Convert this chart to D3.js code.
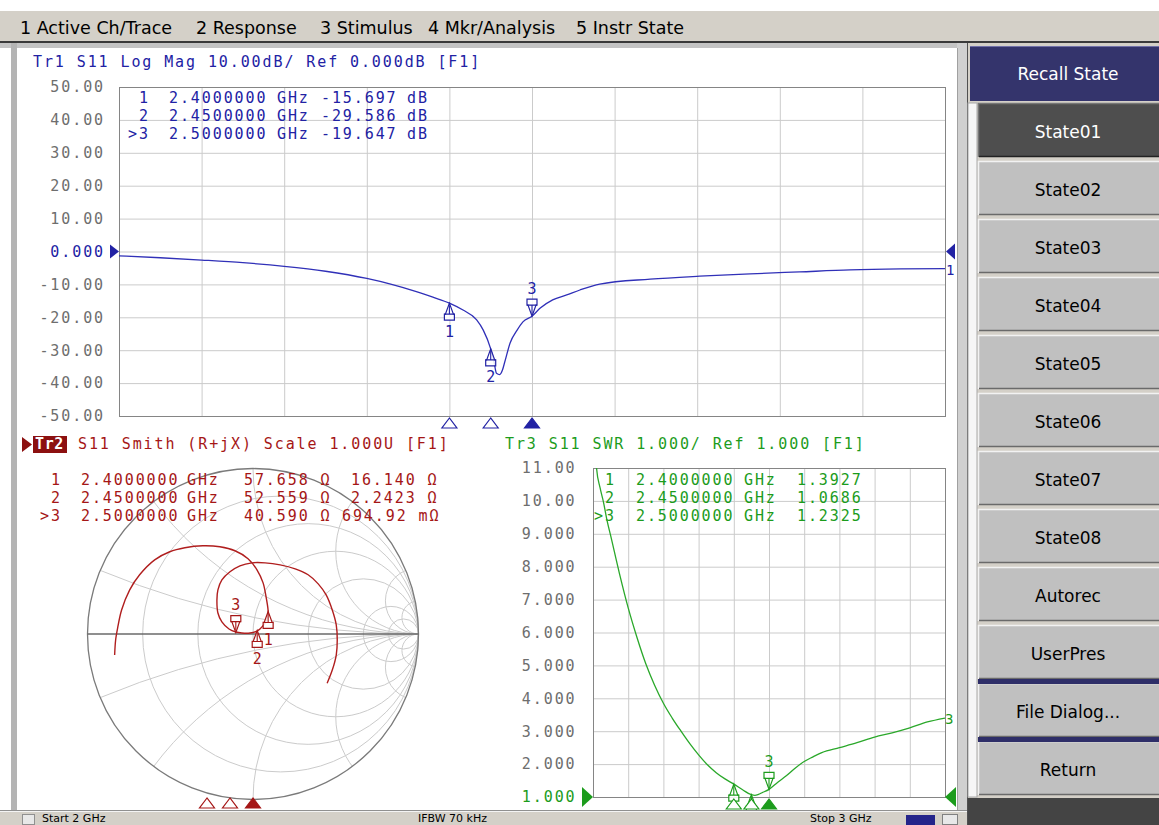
<!DOCTYPE html>
<html><head><meta charset="utf-8">
<script src="https://cdn.jsdelivr.net/npm/d3@7"></script>
<style>
body{margin:0;background:#fff;}
svg{display:block;}
</style></head><body>
<script>
// ---------------- DATA ----------------
const menuItems = ["1 Active Ch/Trace","2 Response","3 Stimulus","4 Mkr/Analysis","5 Instr State"];
const softkeyTitle = "Recall State";
const softkeys = ["State01","State02","State03","State04","State05","State06","State07","State08","Autorec","UserPres","File Dialog...","Return"];
const statusItems = ["Start 2 GHz","IFBW 70 kHz","Stop 3 GHz"];

const freqStart = 2.0, freqStop = 3.0;
const freqGrid = [2.0,2.1,2.2,2.3,2.4,2.5,2.6,2.7,2.8,2.9,3.0];

const logMagTicks = [50,40,30,20,10,0,-10,-20,-30,-40,-50];
const swrTicks = [11,10,9,8,7,6,5,4,3,2,1];

// Tr1 log magnitude trace (GHz, dB)
const logFreq = [2.000,2.050,2.100,2.150,2.200,2.250,2.300,2.330,2.360,2.380,2.400,2.4165,2.433,2.441,2.450,2.454,2.457,2.461,2.464,2.467,2.4735,2.482,2.489,2.500,2.510,2.525,2.542,2.558,2.582,2.643,2.703,2.764,2.824,2.885,2.946,3.000];
const logDb   = [-1.3,-1.9,-2.6,-3.4,-4.5,-6.0,-8.2,-10.0,-12.2,-13.9,-15.697,-17.8,-20.8,-23.9,-29.586,-33.5,-37.0,-37.4,-36.2,-33.6,-27.8,-23.9,-21.4,-19.647,-17.2,-14.7,-13.2,-11.7,-9.9,-8.4,-7.5,-6.8,-6.2,-5.6,-5.3,-5.2];

// Tr3 SWR trace
const swrFreq = [2.00,2.01,2.02,2.03,2.04,2.05,2.075,2.10,2.125,2.15,2.175,2.20,2.225,2.25,2.275,2.30,2.325,2.35,2.375,2.40,2.425,2.45,2.46,2.47,2.48,2.50,2.525,2.55,2.575,2.60,2.625,2.65,2.70,2.75,2.80,2.85,2.90,2.95,3.00];
const swrVals = [13.0,11.0,10.4,9.95,9.4,8.95,7.8,6.75,5.85,5.05,4.4,3.85,3.4,3.0,2.62,2.28,1.98,1.74,1.55,1.3927,1.22,1.0686,1.05,1.08,1.13,1.2325,1.45,1.65,1.88,2.08,2.22,2.35,2.50,2.65,2.82,2.95,3.10,3.28,3.40];

// Tr2 Smith trace (reflection coefficient, real / imaginary), in sweep order
const smithRe = [-0.836,-0.830,-0.818,-0.794,-0.745,-0.685,-0.594,-0.503,-0.412,-0.303,-0.200,-0.109,-0.030,0.024,0.061,0.079,0.091,0.091,0.073,0.042,0.024,-0.018,-0.067,-0.103,-0.145,-0.188,-0.212,-0.218,-0.212,-0.188,-0.139,-0.079,-0.006,0.073,0.164,0.255,0.333,0.394,0.442,0.479,0.503,0.509,0.503,0.479,0.448];
const smithIm = [-0.127,-0.036,0.036,0.145,0.267,0.358,0.448,0.497,0.521,0.533,0.527,0.503,0.455,0.388,0.309,0.224,0.145,0.115,0.067,0.030,0.018,0.006,0.006,0.012,0.030,0.073,0.127,0.206,0.267,0.327,0.376,0.412,0.430,0.430,0.418,0.394,0.358,0.303,0.236,0.145,0.055,-0.036,-0.127,-0.218,-0.297];
const smithRgrid = [0.2,0.5,1,2,5,10];
const smithXgrid = [0.2,0.5,1,2,5,10,-0.2,-0.5,-1,-2,-5,-10];
const z0 = 50;

// Markers
const markerNames = ["1","2",">3"];
const markerFreq = [2.40,2.45,2.50];
const markerFreqTxt = ["2.4000000","2.4500000","2.5000000"];
const markerDb = [-15.697,-29.586,-19.647];
const markerDbTxt = ["-15.697","-29.586","-19.647"];
const markerR = [57.658,52.559,40.590];
const markerX = [16.140,2.2423,0.69492];
const markerRTxt = ["57.658 Ω","52.559 Ω","40.590 Ω"];
const markerXTxt = ["16.140 Ω","2.2423 Ω","694.92 mΩ"];
const markerSwr = [1.3927,1.0686,1.2325];
const markerSwrTxt = ["1.3927","1.0686","1.2325"];
const activeMarker = 2;

// ---------------- STYLE ----------------
const W=1159,H=825;
const MONO='"DejaVu Sans Mono", monospace';
const SANS='"DejaVu Sans", sans-serif';
const BLUE="#2222a4", BLUE_TR="#3030b8";
const RED="#a51616", RED_TR="#b01e1e", RED_DK="#8c1010";
const GREEN="#1c9c1c", GREEN_TR="#2aa82a";
const TICK="#6e6e6e", GRID="#cbcbcb", FRAME="#858585";
const LS="1.9px";

const svg=d3.select("body").append("svg").attr("width",W).attr("height",H);
svg.append("rect").attr("width",W).attr("height",H).attr("fill","#fff");

// ---------------- MENU BAR ----------------
svg.append("rect").attr("x",0).attr("y",11).attr("width",W).attr("height",31).attr("fill","#d4d0c8");
svg.append("rect").attr("x",0).attr("y",41).attr("width",W).attr("height",2).attr("fill","#3a3a3a");
const menuX=[20,196,320,428,576];
svg.selectAll("text.menu").data(menuItems).join("text").attr("class","menu")
  .attr("x",(d,i)=>menuX[i]).attr("y",34).attr("font-family",SANS).attr("font-size",17.5)
  .attr("fill","#000").text(d=>d);

// ---------------- WINDOW FRAME ----------------
svg.append("rect").attr("x",0).attr("y",43).attr("width",967).attr("height",5).attr("fill","#c4c4c4");
svg.append("rect").attr("x",11).attr("y",43).attr("width",6).attr("height",770).attr("fill","#b4b4b4");
svg.append("rect").attr("x",957).attr("y",43).attr("width",10).attr("height",770).attr("fill","#d0d0d0");
svg.append("line").attr("x1",957.5).attr("x2",957.5).attr("y1",48).attr("y2",810).attr("stroke","#a0a0a0");

// ---------------- HELPERS ----------------
function plotGrid(xs, ys, yTicks, fmt, pad, refVal, refColor){
  const [x0,x1]=xs.range(), [yb,yt]=ys.range();
  const gx=svg.append("g").attr("transform",`translate(0,${yb})`)
    .call(d3.axisBottom(xs).tickValues(freqGrid).tickSize(-(yb-yt)).tickFormat(""));
  gx.select(".domain").remove();
  gx.selectAll(".tick line").attr("stroke",GRID);
  const gy=svg.append("g").attr("transform",`translate(${x0},0)`)
    .call(d3.axisLeft(ys).tickValues(yTicks).tickSize(-(x1-x0)).tickPadding(pad).tickFormat(fmt));
  gy.select(".domain").remove();
  gy.attr("font-family",MONO).attr("font-size",15);
  gy.selectAll(".tick line").attr("stroke",GRID);
  gy.selectAll(".tick text").attr("fill",d=>d===refVal?refColor:TICK).style("letter-spacing",LS);
  svg.append("rect").attr("x",x0+0.5).attr("y",yt+0.5).attr("width",x1-x0).attr("height",yb-yt)
    .attr("fill","none").attr("stroke",FRAME);
}
function clipRect(id,xs,ys){
  const [x0,x1]=xs.range(), [yb,yt]=ys.range();
  svg.append("clipPath").attr("id",id).append("rect").attr("x",x0).attr("y",yt).attr("width",x1-x0).attr("height",yb-yt);
}
function markerGlyph(g,x,y,color,active,label,showLabel){
  const s=active?-1:1;
  g.append("path").attr("d",`M${x},${y} L${x-4},${y+s*11} L${x-5},${y+s*11} L${x-5},${y+s*17} L${x+5},${y+s*17} L${x+5},${y+s*11} L${x+4},${y+s*11} Z`)
    .attr("fill","#fff").attr("fill-opacity",0.85).attr("stroke",color).attr("stroke-width",1.2);
  g.append("path").attr("d",`M${x},${y+s*2} L${x},${y+s*11} M${x-5},${y+s*11} L${x+5},${y+s*11}`)
    .attr("stroke",color).attr("stroke-width",1.1);
  if(showLabel!==false)
    g.append("text").attr("x",x).attr("y",y+s*28).attr("dy","0.36em").attr("text-anchor","middle")
      .attr("font-family",MONO).attr("font-size",15).attr("fill",color).text(label);
}
function stimTri(g,x,y,color,filled){
  g.append("path").attr("d",`M${x},${y} L${x-7.5},${y+10} L${x+7.5},${y+10} Z`)
    .attr("fill",filled?color:"#fff").attr("stroke",color).attr("stroke-width",1.2);
}
function monoText(x,y,txt,color,anchor){
  return svg.append("text").attr("x",x).attr("y",y).attr("font-family",MONO).attr("font-size",15)
    .attr("fill",color).attr("text-anchor",anchor||"start").style("letter-spacing",LS).attr("xml:space","preserve").text(txt);
}

// ---------------- TR1 LOG MAG ----------------
const xTop=d3.scaleLinear().domain([freqStart,freqStop]).range([119,945]);
const yTop=d3.scaleLinear().domain([-50,50]).range([416,87]);
plotGrid(xTop,yTop,logMagTicks,d=>d===0?"0.000":d.toFixed(2),14,0,BLUE);
clipRect("clipTop",xTop,yTop);
monoText(33,67,"Tr1 S11 Log Mag 10.00dB/ Ref 0.000dB [F1]",BLUE);
const logPts=logFreq.map((f,i)=>[f,logDb[i]]);
svg.append("path").datum(logPts).attr("clip-path","url(#clipTop)")
  .attr("d",d3.line().x(d=>xTop(d[0])).y(d=>yTop(d[1])).curve(d3.curveMonotoneX))
  .attr("fill","none").attr("stroke",BLUE_TR).attr("stroke-width",1.3);
// marker table
markerNames.forEach((m,i)=>{
  const y=103+i*18;
  monoText(149.9,y,m,BLUE,"end");
  monoText(169,y,markerFreqTxt[i],BLUE);
  monoText(277,y,"GHz",BLUE);
  monoText(321,y,markerDbTxt[i],BLUE);
  monoText(407,y,"dB",BLUE);
});
const gTopM=svg.append("g");
markerFreq.forEach((f,i)=>{
  markerGlyph(gTopM,xTop(f),yTop(markerDb[i]),BLUE,i===activeMarker,String(i+1));
  stimTri(gTopM,xTop(f),418,BLUE,i===activeMarker);
});
// reference arrows and trace label
svg.append("path").attr("d",`M110,${yTop(0)-7} L119,${yTop(0)} L110,${yTop(0)+7} Z`).attr("fill",BLUE);
svg.append("path").attr("d",`M955,${yTop(0)-8} L946,${yTop(0)} L955,${yTop(0)+8} Z`).attr("fill",BLUE);
svg.append("text").attr("x",946).attr("y",yTop(logDb[logDb.length-1])+6).attr("font-family",MONO).attr("font-size",14).attr("fill",BLUE).text("1");

// ---------------- TR2 SMITH ----------------
const SR=165.5, SCX=253, SCY=634;
const sx=d3.scaleLinear().domain([-1,1]).range([SCX-SR,SCX+SR]);
const sy=d3.scaleLinear().domain([-1,1]).range([SCY+SR,SCY-SR]);
svg.append("path").attr("d","M22,437 L32,444.5 L22,452 Z").attr("fill",RED_DK);
svg.append("rect").attr("x",33).attr("y",436).attr("width",34).attr("height",17).attr("fill",RED_DK);
svg.append("text").attr("x",35).attr("y",449).attr("font-family",MONO).attr("font-size",15).attr("font-weight","bold")
  .attr("fill","#fff").style("letter-spacing","0.6px").text("Tr2");
monoText(78,449,"S11 Smith (R+jX) Scale 1.000U [F1]",RED);
svg.append("clipPath").attr("id","smithClip").append("circle").attr("cx",sx(0)).attr("cy",sy(0)).attr("r",SR);
const sg=svg.append("g").attr("fill","none").attr("stroke",GRID).attr("stroke-width",1);
smithRgrid.forEach(r=>{
  sg.append("circle").attr("cx",sx(r/(1+r))).attr("cy",sy(0)).attr("r",sx(1/(1+r))-sx(0));
});
smithXgrid.forEach(x=>{
  sg.append("circle").attr("cx",sx(1)).attr("cy",sy(1/x)).attr("r",sx(1/Math.abs(x))-sx(0)).attr("clip-path","url(#smithClip)");
});
svg.append("circle").attr("cx",sx(0)).attr("cy",sy(0)).attr("r",SR).attr("fill","none").attr("stroke","#7a7a7a").attr("stroke-width",1.3);
svg.append("line").attr("x1",sx(-1)).attr("x2",sx(1)).attr("y1",sy(0)).attr("y2",sy(0)).attr("stroke","#6a6a6a").attr("stroke-width",1.3);
markerNames.forEach((m,i)=>{
  const y=485+i*18;
  monoText(61.9,y,m,RED,"end");
  monoText(81,y,markerFreqTxt[i],RED);
  monoText(187,y,"GHz",RED);
  monoText(244,y,markerRTxt[i],RED);
  monoText(i===2?342:351,y,markerXTxt[i],RED);
});
const smithPts=smithRe.map((r,i)=>[r,smithIm[i]]);
svg.append("path").datum(smithPts).attr("d",d3.line().x(d=>sx(d[0])).y(d=>sy(d[1])).curve(d3.curveCatmullRom))
  .attr("fill","none").attr("stroke",RED_TR).attr("stroke-width",1.4);
const gSm=svg.append("g");
const xSmithF=d3.scaleLinear().domain([freqStart,freqStop]).range([23,483]);
markerR.forEach((R,i)=>{
  const zr=R/z0, zi=markerX[i]/z0;
  const den=(zr+1)*(zr+1)+zi*zi;
  const gr=((zr-1)*(zr+1)+zi*zi)/den, gi=(2*zi)/den;
  markerGlyph(gSm,sx(gr),sy(gi),RED,i===activeMarker,String(i+1));
  stimTri(gSm,xSmithF(markerFreq[i]),798,RED,i===activeMarker);
});

// ---------------- TR3 SWR ----------------
const xSwr=d3.scaleLinear().domain([freqStart,freqStop]).range([593,945]);
const ySwr=d3.scaleLinear().domain([1,11]).range([797,468]);
plotGrid(xSwr,ySwr,swrTicks,d=>d>=10?d.toFixed(2):d.toFixed(3),16.5,1,GREEN);
clipRect("clipSwr",xSwr,ySwr);
monoText(505,449,"Tr3 S11 SWR 1.000/ Ref 1.000 [F1]",GREEN);
markerNames.forEach((m,i)=>{
  const y=485+i*18;
  monoText(615.9,y,m,GREEN,"end");
  monoText(636,y,markerFreqTxt[i],GREEN);
  monoText(744,y,"GHz",GREEN);
  monoText(797,y,markerSwrTxt[i],GREEN);
});
const swrPts=swrFreq.map((f,i)=>[f,swrVals[i]]);
svg.append("path").datum(swrPts).attr("clip-path","url(#clipSwr)")
  .attr("d",d3.line().x(d=>xSwr(d[0])).y(d=>ySwr(d[1])).curve(d3.curveMonotoneX))
  .attr("fill","none").attr("stroke",GREEN_TR).attr("stroke-width",1.3);
const gSw=svg.append("g");
markerFreq.forEach((f,i)=>{
  const py=ySwr(markerSwr[i]);
  markerGlyph(gSw,xSwr(f),py,GREEN,i===activeMarker,String(i+1),(i===activeMarker)||py+34<810);
});
markerFreq.forEach((f,i)=>stimTri(gSw,xSwr(f),799,GREEN,i===activeMarker));
svg.append("path").attr("d",`M582,${ySwr(1)-10} L593,${ySwr(1)} L582,${ySwr(1)+10} Z`).attr("fill",GREEN);
svg.append("path").attr("d",`M956,${ySwr(1)-10} L945,${ySwr(1)} L956,${ySwr(1)+10} Z`).attr("fill",GREEN);
svg.append("text").attr("x",945).attr("y",ySwr(swrVals[swrVals.length-1])+6).attr("font-family",MONO).attr("font-size",14).attr("fill",GREEN).text("3");

// ---------------- STATUS BAR ----------------
svg.append("rect").attr("x",0).attr("y",810).attr("width",967).attr("height",15).attr("fill","#d4d0c8");
svg.append("line").attr("x1",0).attr("x2",967).attr("y1",810.5).attr("y2",810.5).attr("stroke","#909090");
svg.append("line").attr("x1",0).attr("x2",967).attr("y1",811.5).attr("y2",811.5).attr("stroke","#f4f4f4");
const statusX=[42,418,810];
svg.selectAll("text.status").data(statusItems).join("text").attr("class","status")
  .attr("x",(d,i)=>statusX[i]).attr("y",822).attr("font-family",SANS).attr("font-size",11).attr("fill","#000").text(d=>d);
svg.append("rect").attr("x",906).attr("y",815).attr("width",29).attr("height",10).attr("fill","#24248a");
svg.append("rect").attr("x",942.5).attr("y",814.5).attr("width",15).attr("height",10).attr("fill","#e8e8e8").attr("stroke","#808080");
svg.append("rect").attr("x",22.5).attr("y",814.5).attr("width",12).attr("height",10).attr("fill","#e8e8e8").attr("stroke","#909090");

// ---------------- SOFTKEY PANEL ----------------
svg.append("rect").attr("x",967).attr("y",43).attr("width",192).attr("height",782).attr("fill","#d4d0c8");
svg.append("line").attr("x1",967.5).attr("x2",967.5).attr("y1",43).attr("y2",825).attr("stroke","#505050");
svg.append("rect").attr("x",968).attr("y",103).attr("width",9).attr("height",694).attr("fill","#f6f6f6").attr("stroke","#a8a8a8");
svg.append("rect").attr("x",970).attr("y",46).attr("width",189).attr("height",55).attr("fill","#34346c");
svg.append("line").attr("x1",970).attr("x2",1159).attr("y1",46.5).attr("y2",46.5).attr("stroke","#7070a8");
svg.append("text").attr("x",1068).attr("y",80).attr("text-anchor","middle").attr("font-family",SANS).attr("font-size",17)
  .attr("fill","#fff").text(softkeyTitle);
const keyG=svg.append("g");
softkeys.forEach((k,i)=>{
  const y=103+i*58, h=54, x=978, w=1159-978;
  const dark=i===0;
  keyG.append("rect").attr("x",x).attr("y",y).attr("width",w).attr("height",h).attr("fill",dark?"#4e4e4e":"#c0c0c0");
  keyG.append("path").attr("d",`M${x+0.5},${y+h} V${y+0.5} H${x+w}`).attr("fill","none").attr("stroke",dark?"#777":"#f2f2f2").attr("stroke-width",1.5);
  keyG.append("path").attr("d",`M${x+1},${y+h-0.5} H${x+w}`).attr("fill","none").attr("stroke",dark?"#222":"#6a6a6a").attr("stroke-width",1.5);
  keyG.append("text").attr("x",1068).attr("y",y+35).attr("text-anchor","middle").attr("font-family",SANS).attr("font-size",17)
    .attr("fill",dark?"#fff":"#000").text(k);
});
svg.append("rect").attr("x",978).attr("y",679).attr("width",181).attr("height",5).attr("fill","#2e2e68");
svg.append("rect").attr("x",978).attr("y",737).attr("width",181).attr("height",5).attr("fill","#2e2e68");
svg.append("rect").attr("x",968).attr("y",798).attr("width",191).attr("height",27).attr("fill","#444");
</script></body></html>
